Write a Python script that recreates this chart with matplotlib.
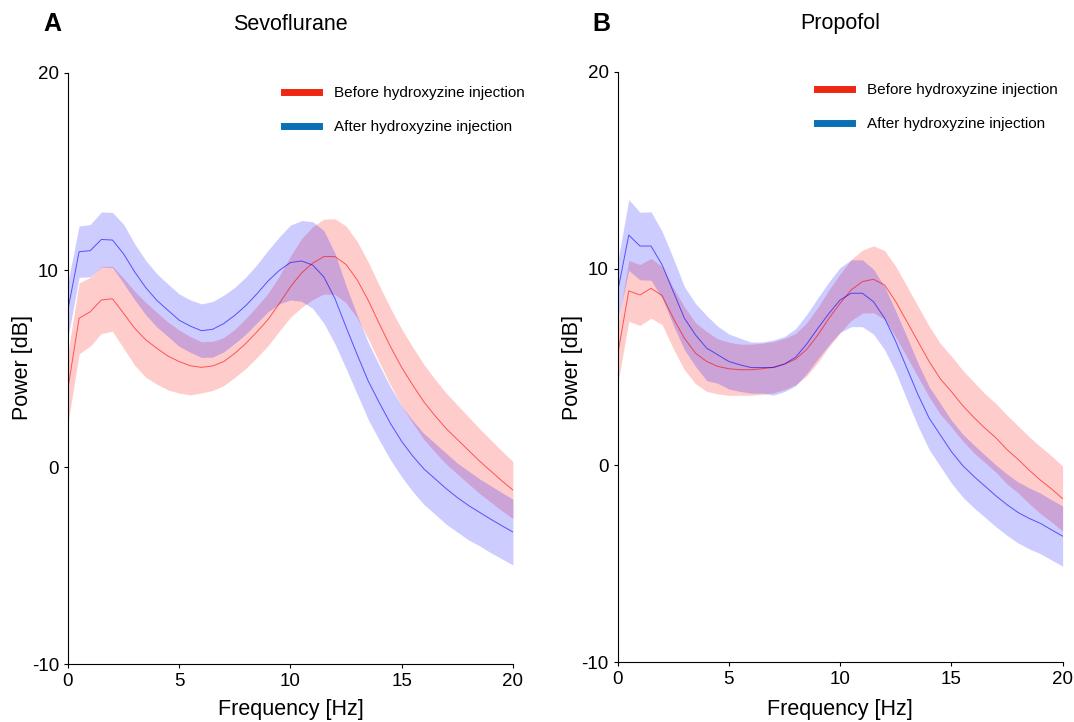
import numpy as np
import matplotlib
matplotlib.use('Agg')
import matplotlib.pyplot as plt
from matplotlib.lines import Line2D

plt.rcParams['font.family'] = ['Liberation Sans', 'DejaVu Sans']
plt.rcParams['axes.unicode_minus'] = False

# Frecuencias (Hz)
freqs = np.arange(0, 20.5, 0.5)

# Sevoflurano: media y desviacion (dB)
sevo_antes = [4.0, 7.55, 7.88, 8.48, 8.54, 7.8, 7.04, 6.45, 6.02, 5.63, 5.35, 5.14, 5.06, 5.13,
              5.35, 5.77, 6.28, 6.87, 7.5, 8.3, 9.15, 9.85, 10.35, 10.68, 10.68, 10.28, 9.5,
              8.45, 7.25, 6.1, 5.05, 4.15, 3.3, 2.6, 1.95, 1.4, 0.85, 0.3, -0.2, -0.7, -1.17]
sevo_antes_sd = [1.8, 1.8, 1.75, 1.7, 1.65, 1.78, 1.88, 1.9, 1.82, 1.72, 1.6, 1.48, 1.3, 1.25,
                 1.22, 1.22, 1.27, 1.3, 1.33, 1.4, 1.55, 1.75, 1.85, 1.9, 1.92, 1.95, 1.95,
                 1.95, 1.95, 1.95, 1.95, 1.93, 1.9, 1.85, 1.8, 1.75, 1.7, 1.65, 1.58, 1.52, 1.45]
sevo_despues = [8.0, 10.93, 10.98, 11.55, 11.52, 10.82, 9.9, 9.1, 8.45, 7.95, 7.45, 7.15, 6.92,
                6.99, 7.28, 7.7, 8.2, 8.8, 9.45, 9.98, 10.38, 10.46, 10.25, 9.65, 8.55, 7.1,
                5.7, 4.35, 3.25, 2.2, 1.3, 0.55, -0.1, -0.6, -1.1, -1.55, -1.95, -2.3, -2.65,
                -2.98, -3.3]
sevo_despues_sd = [1.4, 1.3, 1.33, 1.4, 1.4, 1.5, 1.42, 1.38, 1.35, 1.33, 1.33, 1.33, 1.36,
                   1.41, 1.44, 1.42, 1.45, 1.48, 1.56, 1.7, 1.9, 2.05, 2.2, 2.35, 2.3, 2.1, 2.0,
                   1.95, 1.9, 1.85, 1.8, 1.8, 1.8, 1.8, 1.8, 1.75, 1.75, 1.7, 1.7, 1.68, 1.67]

# Propofol: media y desviacion (dB)
prop_antes = [5.62, 8.87, 8.66, 9.0, 8.63, 7.48, 6.46, 5.7, 5.28, 5.03, 4.91, 4.86, 4.86, 4.91,
              4.99, 5.15, 5.4, 5.9, 6.63, 7.48, 8.24, 8.92, 9.34, 9.46, 9.17, 8.32, 7.31, 6.29,
              5.28, 4.4, 3.75, 3.05, 2.45, 1.9, 1.4, 0.8, 0.3, -0.25, -0.75, -1.2, -1.69]
prop_antes_sd = [1.5, 1.55, 1.55, 1.52, 1.48, 1.55, 1.6, 1.55, 1.52, 1.4, 1.35, 1.3, 1.3, 1.3,
                 1.3, 1.3, 1.3, 1.35, 1.4, 1.45, 1.5, 1.55, 1.6, 1.7, 1.75, 1.8, 1.8, 1.8, 1.8,
                 1.8, 1.8, 1.8, 1.8, 1.75, 1.75, 1.75, 1.7, 1.7, 1.7, 1.68, 1.65]
prop_despues = [8.83, 11.71, 11.15, 11.15, 10.19, 8.83, 7.48, 6.63, 5.96, 5.62, 5.28, 5.11,
                4.97, 4.97, 4.97, 5.15, 5.5, 6.17, 6.97, 7.73, 8.41, 8.75, 8.75, 8.32, 7.48,
                6.29, 4.94, 3.59, 2.4, 1.55, 0.7, 0.0, -0.55, -1.05, -1.55, -2.0, -2.4, -2.7,
                -2.95, -3.28, -3.6]
prop_despues_sd = [1.5, 1.8, 1.72, 1.74, 1.7, 1.7, 1.6, 1.6, 1.65, 1.45, 1.4, 1.35, 1.3, 1.3,
                   1.4, 1.4, 1.45, 1.5, 1.55, 1.6, 1.65, 1.7, 1.7, 1.65, 1.6, 1.55, 1.6, 1.6,
                   1.6, 1.6, 1.6, 1.6, 1.6, 1.58, 1.57, 1.56, 1.55, 1.55, 1.54, 1.53, 1.53]

paneles = [
    ('A', 'Sevoflurane', sevo_antes, sevo_antes_sd, sevo_despues, sevo_despues_sd),
    ('B', 'Propofol', prop_antes, prop_antes_sd, prop_despues, prop_despues_sd),
]
etiquetas = ['Before hydroxyzine injection', 'After hydroxyzine injection']

fig = plt.figure(figsize=(10.74, 7.22), dpi=100)
posiciones = [[0.0633, 0.0803, 0.4143, 0.8186], [0.5751, 0.0831, 0.4143, 0.8172]]
legend_pos = [(0.485, 0.978), (0.448, 0.981)]

for i, (letra, titulo, antes, antes_sd, despues, despues_sd) in enumerate(paneles):
    ax = fig.add_axes(posiciones[i])
    antes = np.array(antes)
    despues = np.array(despues)
    antes_sd = np.array(antes_sd)
    despues_sd = np.array(despues_sd)

    # Bandas y medias
    ax.fill_between(freqs, antes - antes_sd, antes + antes_sd, color='red', alpha=0.2, lw=0)
    ax.fill_between(freqs, despues - despues_sd, despues + despues_sd, color='blue', alpha=0.2, lw=0)
    ax.plot(freqs, antes, color='red', lw=0.7, alpha=0.6)
    ax.plot(freqs, despues, color='blue', lw=0.7, alpha=0.6)

    ax.set_xlim(0, 20)
    ax.set_ylim(-10, 20)
    ax.set_xticks([0, 5, 10, 15, 20])
    ax.set_yticks([-10, 0, 10, 20])
    ax.tick_params(labelsize=13.5, length=3, width=0.8)
    ax.spines['top'].set_visible(False)
    ax.spines['right'].set_visible(False)

    handles = [Line2D([], [], color='#ee2712', lw=5), Line2D([], [], color='#0a6fb5', lw=5)]
    ax.legend(handles, etiquetas, loc='upper left', bbox_to_anchor=legend_pos[i], frameon=False,
              fontsize=11, handlelength=2.3, handletextpad=1.0, labelspacing=1.3,
              borderpad=0, borderaxespad=0)

    # Textos
    pos = posiciones[i]
    cx = pos[0] + pos[2] / 2
    fig.text(cx, 1 - 24 / 722, titulo, ha='center', va='center', fontsize=15.5)
    fig.text(pos[0] - 16 / 1074, 1 - 24 / 722, letra, ha='center', va='center',
             fontsize=18, fontweight='bold')
    fig.text(cx, 1 - 709 / 722, 'Frequency [Hz]', ha='center', va='center', fontsize=15.5)
    fig.text(pos[0] - 45 / 1074, 1 - 368 / 722, 'Power [dB]', ha='center', va='center',
             rotation=90, fontsize=15.5)

fig.savefig('out.png', dpi=100)
